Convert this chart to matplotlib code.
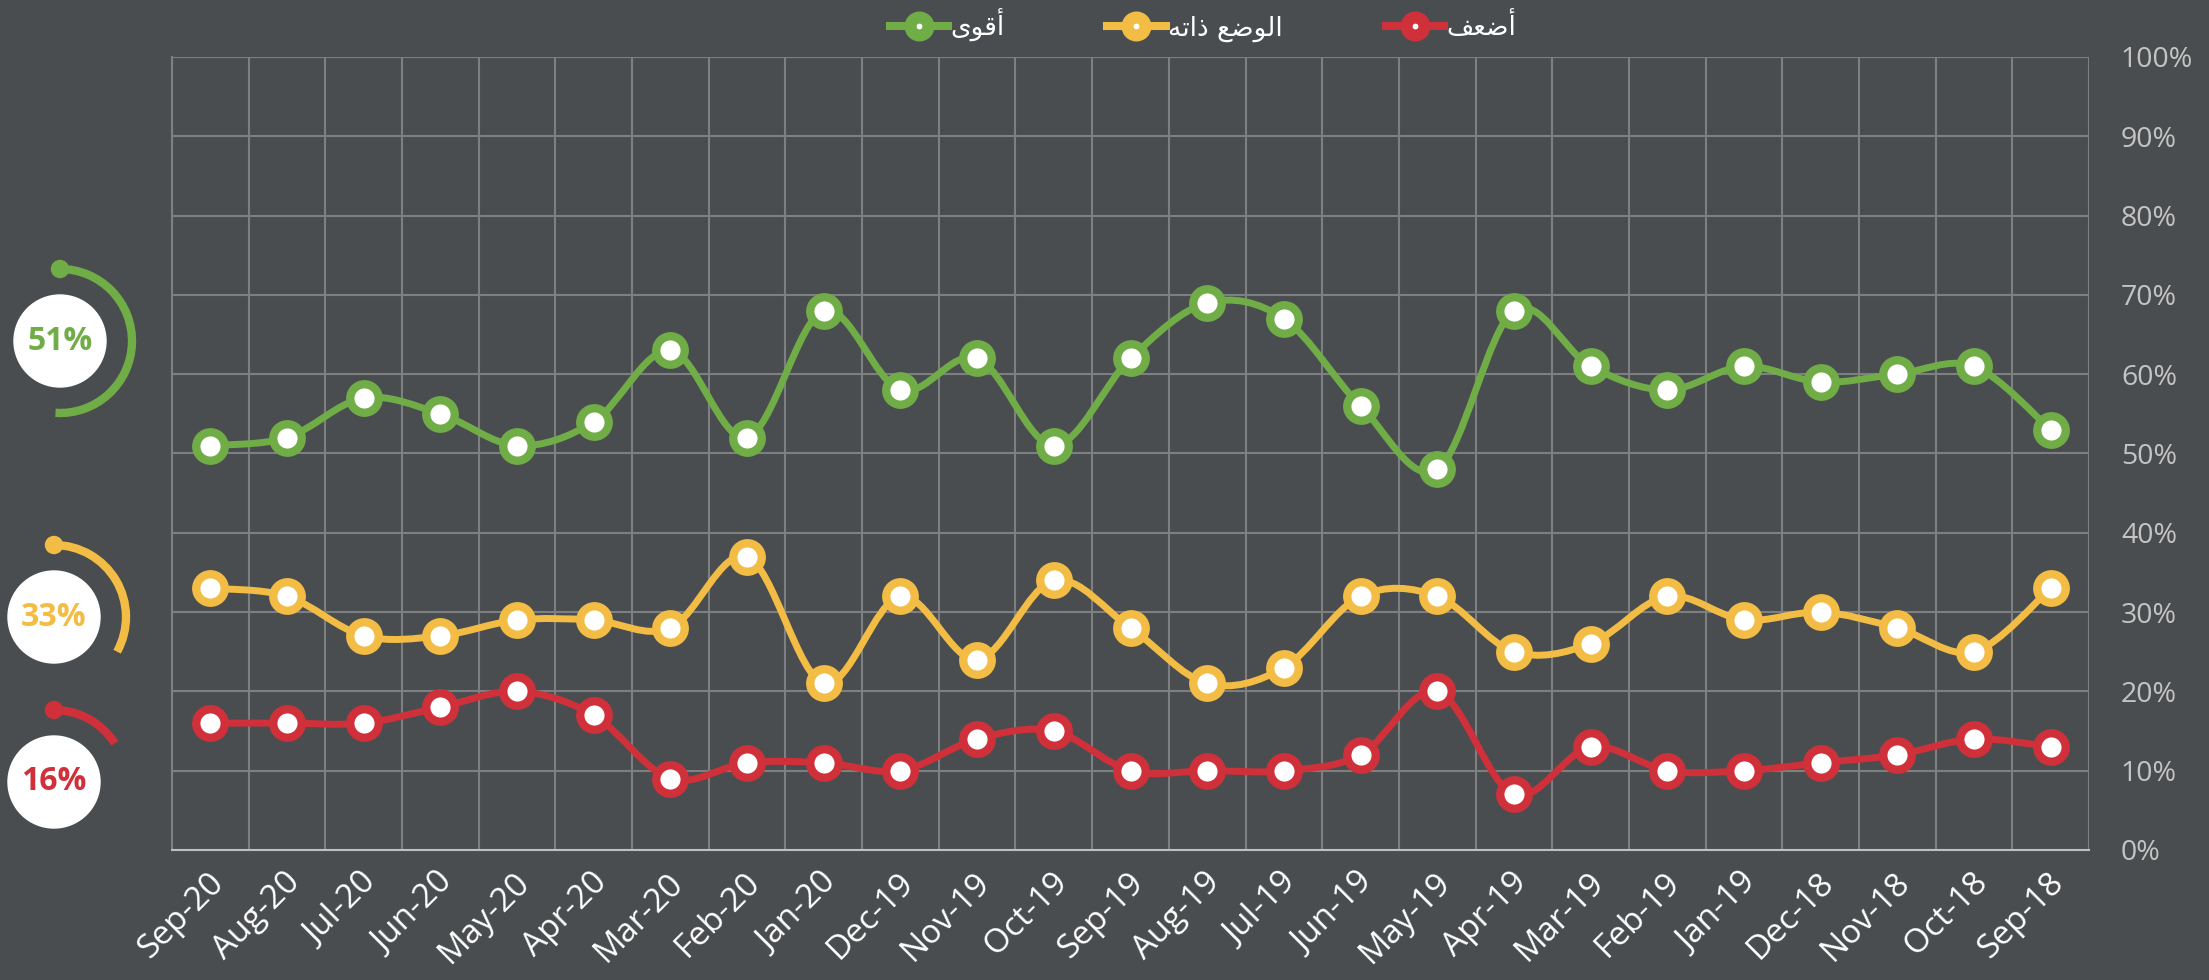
import numpy as np
import matplotlib
matplotlib.use("Agg")
import matplotlib.pyplot as plt
import matplotlib.transforms as mtransforms
from matplotlib.path import Path
from matplotlib.patches import PathPatch, Arc, Circle
from matplotlib.lines import Line2D

BG = "#4a4d4f"
GRID = "#7d7f80"
GREEN = "#70ad47"
YELLOW = "#f3bd45"
RED = "#d0303a"

months = ["Sep-20", "Aug-20", "Jul-20", "Jun-20", "May-20", "Apr-20", "Mar-20", "Feb-20",
          "Jan-20", "Dec-19", "Nov-19", "Oct-19", "Sep-19", "Aug-19", "Jul-19", "Jun-19",
          "May-19", "Apr-19", "Mar-19", "Feb-19", "Jan-19", "Dec-18", "Nov-18", "Oct-18", "Sep-18"]
stronger = [51, 52, 57, 55, 51, 54, 63, 52, 68, 58, 62, 51, 62, 69, 67, 56, 48, 68, 61, 58, 61, 59, 60, 61, 53]
same = [33, 32, 27, 27, 29, 29, 28, 37, 21, 32, 24, 34, 28, 21, 23, 32, 32, 25, 26, 32, 29, 30, 28, 25, 33]
weaker = [16, 16, 16, 18, 20, 17, 9, 11, 11, 10, 14, 15, 10, 10, 10, 12, 20, 7, 13, 10, 10, 11, 12, 14, 13]

# arabic labels, pre-shaped (presentation forms, visual order)
lbl_stronger = "\uFEEF\uFEEE\uFED7\uFE83"                               # أقوى
lbl_same = "\uFEEA\uFE97\uFE8D\uFEAB \uFECA\uFEBF\uFEEE\uFEDF\uFE8D"   # الوضع ذاته
lbl_weaker = "\uFED2\uFECC\uFEBF\uFE83"                                 # أضعف

series = [(stronger, GREEN, lbl_stronger), (same, YELLOW, lbl_same), (weaker, RED, lbl_weaker)]


def smooth_path(x, y):
    # excel-like smoothed line: cubic bezier segments (catmull-rom control points)
    pts = np.column_stack([x, y]).astype(float)
    n = len(pts)
    verts = [pts[0]]
    codes = [Path.MOVETO]
    for i in range(n - 1):
        p0 = pts[max(i - 1, 0)]
        p1 = pts[i]
        p2 = pts[i + 1]
        p3 = pts[min(i + 2, n - 1)]
        c1 = p1 + (p2 - p0) / 6.0
        c2 = p2 - (p3 - p1) / 6.0
        verts += [c1, c2, p2]
        codes += [Path.CURVE4] * 3
    return Path(verts, codes)


W, H = 2209, 980
fig = plt.figure(figsize=(W / 100, H / 100), dpi=100, facecolor=BG)
ax = fig.add_axes([172 / W, 1 - 850 / H, (2089 - 172) / W, (850 - 57) / H])
ax.set_facecolor(BG)

x = np.arange(len(months))
for vals, col, lab in series:
    ax.add_patch(PathPatch(smooth_path(x, vals), facecolor="none", edgecolor=col,
                           lw=5, capstyle="round", joinstyle="round", zorder=3))
    ax.plot(x, vals, ls="none", marker="o", ms=20.5, mfc="white", mec=col, mew=6, zorder=4)

ax.set_xlim(-0.5, len(months) - 0.5)
ax.set_ylim(0, 100)
ax.set_yticks(np.arange(0, 101, 10))
ax.set_yticklabels([f"{v}%" for v in range(0, 101, 10)])
ax.set_xticks(x)
ax.set_xticklabels(months)
ax.set_xticks(np.arange(-0.5, len(months), 1), minor=True)
ax.grid(True, which="minor", axis="x", color=GRID, lw=1.5)
ax.grid(True, which="major", axis="y", color=GRID, lw=1.5)
ax.set_axisbelow(True)
for s in ["top", "right"]:
    ax.spines[s].set_visible(False)
ax.spines["left"].set_color(GRID)
ax.spines["left"].set_linewidth(1.5)
ax.spines["bottom"].set_color("#bfbfbf")
ax.spines["bottom"].set_linewidth(1.5)
ax.yaxis.tick_right()
ax.tick_params(axis="y", length=0, pad=23, labelcolor="#c4c4c4", labelsize=20.5)
ax.tick_params(axis="x", which="both", length=0)
ax.tick_params(axis="x", pad=20, labelcolor="white", labelsize=24)
for t in ax.get_yticklabels():
    t.set_fontfamily("Open Sans")
shift = mtransforms.ScaledTranslation(6 / 72, 0, fig.dpi_scale_trans)
for t in ax.get_xticklabels():
    t.set_fontfamily("Open Sans")
    t.set_rotation(45)
    t.set_ha("right")
    t.set_va("center")
    t.set_rotation_mode("anchor")
    t.set_transform(t.get_transform() + shift)

# legend
handles = [Line2D([0], [0], color=col, lw=5.8, marker="o", ms=13, mfc="white", mec=col, mew=8.6)
           for _, col, _ in series]
fig.legend(handles, [lab for _, _, lab in series], loc="center", bbox_to_anchor=(1203 / W, 1 - 25 / H),
           ncol=3, frameon=False, handlelength=2.2, handletextpad=0.1, columnspacing=3.9,
           prop={"family": "DejaVu Sans", "size": 19}, labelcolor="white")

# gauges on the left
gax = fig.add_axes([0, 0, 1, 1])
gax.set_xlim(0, W)
gax.set_ylim(0, H)
gax.axis("off")
gax.patch.set_visible(False)
centers = [(60, H - 341), (54, H - 617), (54, H - 782)]
R = 72
for (vals, col, _), (cx, cy) in zip(series, centers):
    v = vals[0]
    gax.add_patch(Arc((cx, cy), 2 * R, 2 * R, theta1=90 - 3.6 * v, theta2=90, color=col, lw=6))
    gax.add_patch(Circle((cx, cy + R), 8.5, color=col))
    gax.add_patch(Circle((cx, cy), 46, color="white"))
    gax.text(cx, cy, f"{v}%", color=col, fontsize=23, fontweight="bold", family="Open Sans",
             ha="center", va="center")

fig.savefig("out.png", dpi=100, facecolor=BG)
